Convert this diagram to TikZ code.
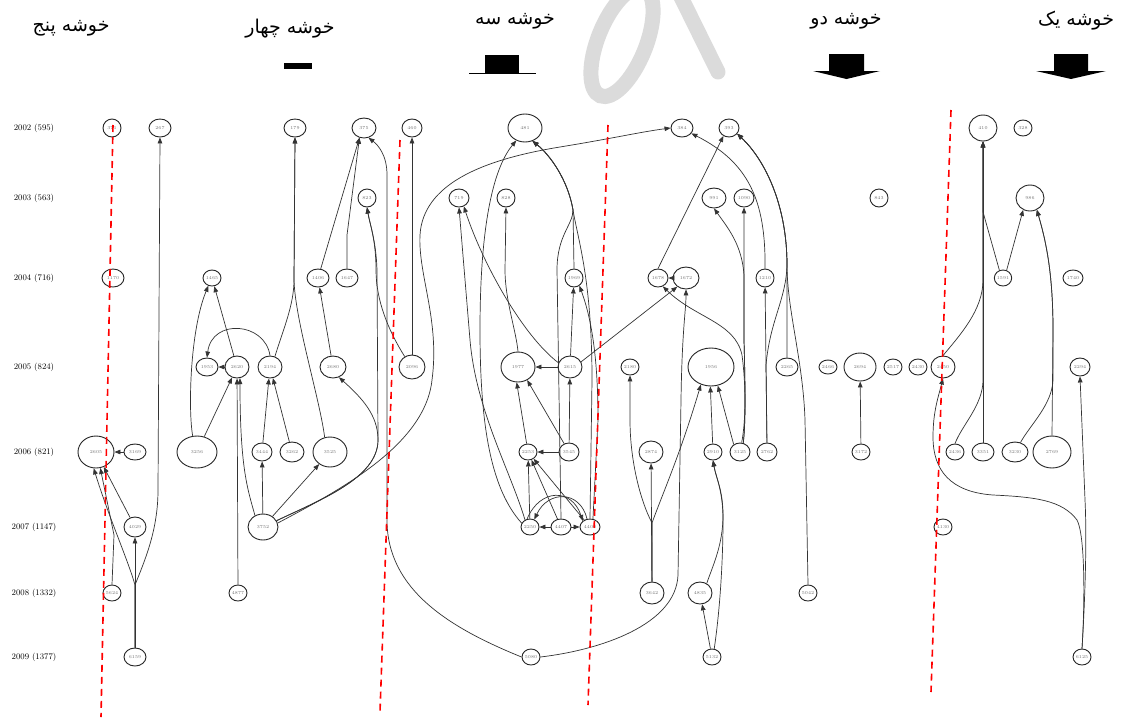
\documentclass[tikz,border=0pt]{standalone}
\usepackage{fontspec}
\newfontfamily\arabicfont[Script=Arabic]{DejaVu Sans}
\TeXXeTstate=1
\usetikzlibrary{shapes.geometric,arrows.meta}
\begin{document}
\begin{tikzpicture}[x=1pt,y=-1pt,
  nd/.style={ellipse, draw=black!85, fill=white, line width=0.9pt, inner sep=0pt,
    font=\fontsize{4.5}{5}\selectfont, text=black!55},
  rowl/.style={font=\fontsize{8.5}{9}\selectfont, inner sep=0pt},
  hd/.style={font=\arabicfont\fontsize{19}{22}\selectfont, inner sep=0pt},
  ed/.style={-{Triangle[length=6pt,width=4.6pt]}, line width=0.7pt, draw=black!80},
  reddash/.style={draw=red, line width=1.6pt, dash pattern=on 7pt off 5pt},
  wm/.style={draw=black!14, line width=15pt}]
\useasboundingbox (0,0) rectangle (1121,718);
\fill[white] (0,0) rectangle (1121,718);
% watermark
\begin{scope}
\clip (0,0) rectangle (1121,718);
\draw[wm, rotate around={-22:(622,42)}] (622,42) ellipse [x radius=24, y radius=58];
\draw[wm, line cap=round] (680,-5) -- (718,72);
\end{scope}
% headers
\node[hd] (h5) at (71,28) {\beginR خوشه پنج\endR};
\node[hd] (h4) at (290,29) {\beginR خوشه چهار\endR};
\node[hd] (h3) at (515,21) {\beginR خوشه سه\endR};
\node[hd] (h2) at (846,21) {\beginR خوشه دو\endR};
\node[hd] (h1) at (1076,21) {\beginR خوشه یک\endR};
\fill (284,63) rectangle (312,69);
\fill (485,55) rectangle (519,73);
\draw[line width=0.7pt] (469,73) -- (536,73);
\fill (829,54) rectangle (864,71) (813,71) -- (880,71) -- (846.5,79) -- cycle;
\fill (1054,54) rectangle (1088,71) (1036,71) -- (1106,71) -- (1071,79) -- cycle;
% row labels
\node[rowl] (r2002) at (34,128) {2002 (595)};
\node[rowl] (r2003) at (34,198) {2003 (563)};
\node[rowl] (r2004) at (34,278) {2004 (716)};
\node[rowl] (r2005) at (34,367) {2005 (824)};
\node[rowl] (r2006) at (34,452) {2006 (821)};
\node[rowl] (r2007) at (34,527) {2007 (1147)};
\node[rowl] (r2008) at (34,593) {2008 (1332)};
\node[rowl] (r2009) at (34,657) {2009 (1377)};
% nodes row 2002
\node[nd,minimum width=18,minimum height=18] (n371) at (112,128) {371};
\node[nd,minimum width=22,minimum height=18] (n267) at (160,128) {267};
\node[nd,minimum width=22,minimum height=18] (n179) at (295,128) {179};
\node[nd,minimum width=24,minimum height=20] (n375) at (364,128) {375};
\node[nd,minimum width=20,minimum height=18] (n460) at (412,128) {460};
\node[nd,minimum width=34,minimum height=28] (n481) at (525,128) {481};
\node[nd,minimum width=22,minimum height=18] (n384) at (682,128) {384};
\node[nd,minimum width=20,minimum height=18] (n393) at (729,128) {393};
\node[nd,minimum width=28,minimum height=26] (n410) at (983,128) {410};
\node[nd,minimum width=18,minimum height=16] (n328) at (1023,128) {328};
% row 2003
\node[nd,minimum width=18,minimum height=18] (n823) at (367,198) {823};
\node[nd,minimum width=20,minimum height=18] (n719) at (459,198) {719};
\node[nd,minimum width=18,minimum height=18] (n828) at (506,198) {828};
\node[nd,minimum width=24,minimum height=20] (n991) at (714,198) {991};
\node[nd,minimum width=20,minimum height=18] (n1090) at (744,198) {1090};
\node[nd,minimum width=18,minimum height=18] (n843) at (879,198) {843};
\node[nd,minimum width=28,minimum height=26] (n986) at (1030,198) {986};
% row 2004
\node[nd,minimum width=22,minimum height=18] (n1170) at (113,278) {1170};
\node[nd,minimum width=18,minimum height=16] (n1465) at (212,278) {1465};
\node[nd,minimum width=22,minimum height=18] (n1406) at (318,278) {1406};
\node[nd,minimum width=22,minimum height=18] (n1647) at (347,278) {1647};
\node[nd,minimum width=18,minimum height=18] (n1969) at (574,278) {1969};
\node[nd,minimum width=20,minimum height=18] (n1678) at (658,278) {1678};
\node[nd,minimum width=26,minimum height=22] (n1672) at (686,278) {1672};
\node[nd,minimum width=18,minimum height=18] (n1210) at (765,278) {1210};
\node[nd,minimum width=16,minimum height=16] (n1591) at (1003,278) {1591};
\node[nd,minimum width=20,minimum height=16] (n1740) at (1073,278) {1740};
% row 2005
\node[nd,minimum width=22,minimum height=18] (n1953) at (207,367) {1953};
\node[nd,minimum width=24,minimum height=22] (n2620) at (237,367) {2620};
\node[nd,minimum width=24,minimum height=22] (n2194) at (270,367) {2194};
\node[nd,minimum width=26,minimum height=22] (n2680) at (333,367) {2680};
\node[nd,minimum width=26,minimum height=24] (n2096) at (412,367) {2096};
\node[nd,minimum width=34,minimum height=30] (n1977) at (518,367) {1977};
\node[nd,minimum width=24,minimum height=22] (n2615) at (570,367) {2615};
\node[nd,minimum width=18,minimum height=16] (n2180) at (630,367) {2180};
\node[nd,minimum width=46,minimum height=38] (n1956) at (711,367) {1956};
\node[nd,minimum width=22,minimum height=18] (n2265) at (787,367) {2265};
\node[nd,minimum width=18,minimum height=14] (n2466) at (828,367) {2466};
\node[nd,minimum width=32,minimum height=28] (n2694) at (860,367) {2694};
\node[nd,minimum width=18,minimum height=16] (n2517) at (893,367) {2517};
\node[nd,minimum width=18,minimum height=16] (n2430) at (918,367) {2430};
\node[nd,minimum width=24,minimum height=22] (n2450) at (943,367) {2450};
\node[nd,minimum width=20,minimum height=18] (n2294) at (1080,367) {2294};
% row 2006
\node[nd,minimum width=36,minimum height=32] (n2605) at (96,452) {2605};
\node[nd,minimum width=22,minimum height=16] (n3169) at (135,452) {3169};
\node[nd,minimum width=40,minimum height=32] (n3256) at (197,452) {3256};
\node[nd,minimum width=20,minimum height=18] (n3444) at (262,452) {3444};
\node[nd,minimum width=24,minimum height=20] (n3262) at (292,452) {3262};
\node[nd,minimum width=34,minimum height=30] (n3525) at (330,452) {3525};
\node[nd,minimum width=18,minimum height=16] (n2253) at (528,452) {2253};
\node[nd,minimum width=20,minimum height=18] (n3545) at (569,452) {3545};
\node[nd,minimum width=24,minimum height=22] (n2874) at (651,452) {2874};
\node[nd,minimum width=18,minimum height=16] (n2910) at (713,452) {2910};
\node[nd,minimum width=20,minimum height=18] (n3125) at (740,452) {3125};
\node[nd,minimum width=20,minimum height=18] (n2762) at (767,452) {2762};
\node[nd,minimum width=18,minimum height=16] (n3172) at (861,452) {3172};
\node[nd,minimum width=18,minimum height=16] (n2436) at (955,452) {2436};
\node[nd,minimum width=22,minimum height=18] (n3351) at (983,452) {3351};
\node[nd,minimum width=26,minimum height=20] (n3230) at (1015,452) {3230};
\node[nd,minimum width=38,minimum height=32] (n2769) at (1052,452) {2769};
% row 2007
\node[nd,minimum width=22,minimum height=20] (n4029) at (135,527) {4029};
\node[nd,minimum width=30,minimum height=26] (n3752) at (263,527) {3752};
\node[nd,minimum width=18,minimum height=16] (n2250) at (530,527) {2250};
\node[nd,minimum width=20,minimum height=16] (n4407) at (561,527) {4407};
\node[nd,minimum width=20,minimum height=16] (n4400) at (590,527) {4400};
\node[nd,minimum width=18,minimum height=16] (n4130) at (943,527) {4130};
% row 2008
\node[nd,minimum width=18,minimum height=16] (n5624) at (112,593) {5624};
\node[nd,minimum width=18,minimum height=16] (n4877) at (238,593) {4877};
\node[nd,minimum width=24,minimum height=22] (n3642) at (652,593) {3642};
\node[nd,minimum width=24,minimum height=22] (n4835) at (700,593) {4835};
\node[nd,minimum width=18,minimum height=16] (n5042) at (808,593) {5042};
% row 2009
\node[nd,minimum width=22,minimum height=18] (n6159) at (135,657) {6159};
\node[nd,minimum width=18,minimum height=16] (n5080) at (531,657) {5080};
\node[nd,minimum width=18,minimum height=16] (n5132) at (712,657) {5132};
\node[nd,minimum width=18,minimum height=16] (n6125) at (1082,657) {6125};
% edges
\begin{scope}[every path/.append style={ed}]
% cluster five
\draw (n6159) -- (n4029);
\draw (n6159.north) -- (135,585) .. controls (128,560) and (108,515) .. (n2605.262);
\draw (n6159.north) -- (135,585) .. controls (145,560) and (158,530) .. (158,490) -- (n267.south);
\draw (n5624.north) -- (114,535) -- (n2605.285);
\draw (n4029) -- (n2605);
\draw (n3169) -- (n2605);
% cluster four
\draw (n3256.105) .. controls (188,410) and (190,330) .. (n1465.245);
\draw (n2620) -- (n1465);
\draw (n2194.north) .. controls (265,322) and (212,318) .. (n1953.north);
\draw (n2620) -- (n1953);
\draw (n3256) -- (n2620);
\draw (n4877) -- (n2620);
\draw (n3752.125) .. controls (248,490) and (240,470) .. (n2620.285);
\draw (n3444) -- (n2194);
\draw (n3262) -- (n2194);
\draw (n3752) -- (n3444);
\draw (n3752) -- (n3525);
\draw (n2194.65) .. controls (283,330) and (294,305) .. (294,280) -- (n179.south);
\draw (n3525.110) .. controls (320,400) and (295,320) .. (294,280) -- (n179.south);
\draw (n2680) -- (n1406);
\draw (n1406) -- (n375.245);
\draw (n1647.north) -- (347,235) -- (n375.245);
\draw (n5080.west) .. controls (450,628) and (387,590) .. (387,520) -- (387,175) .. controls (387,155) and (378,145) .. (n375.295);
\draw (n3752.25) .. controls (320,500) and (378,478) .. (378,440) .. controls (378,415) and (362,398) .. (n2680.300);
\draw (n3752.25) .. controls (320,500) and (378,478) .. (378,440) -- (377,270) .. controls (376,240) and (370,225) .. (n823.south);
\draw (n2096.125) .. controls (388,330) and (376,300) .. (376,270) .. controls (376,240) and (370,225) .. (n823.south);
\draw (n2096) -- (n460);
\draw (n3752.15) .. controls (340,490) and (425,445) .. (432,380) .. controls (440,320) and (418,275) .. (420,235) .. controls (423,185) and (480,160) .. (560,147) .. controls (615,138) and (640,132) .. (n384.west);
% cluster three
\draw (n2250.155) .. controls (492,490) and (480,430) .. (480,330) .. controls (480,230) and (492,170) .. (n481.235);
\draw (n2250.125) .. controls (510,470) and (476,410) .. (470,340) -- (n719.south);
\draw (n4407.north) -- (557,270) .. controls (557,235) and (573,225) .. (573,210) .. controls (568,180) and (550,155) .. (n481.300);
\draw (n4400.north) -- (592,380) .. controls (592,280) and (578,240) .. (573,210) .. controls (568,180) and (550,155) .. (n481.300);
\draw (n1969.north) -- (573,210) .. controls (568,180) and (550,155) .. (n481.300);
\draw (n2615) -- (n1969);
\draw (n4400.70) -- (598,420) .. controls (598,360) and (592,320) .. (n1969.305);
\draw (n2615.160) .. controls (522,335) and (482,262) .. (n719.300);
\draw (n1977.north) .. controls (516,330) and (505,300) .. (505,270) -- (n828.south);
\draw (n2615) -- (n1977);
\draw (n2615.25) -- (n1672.225);
\draw (n2253) -- (n1977.265);
\draw (n3545) -- (n1977.305);
\draw (n3545) -- (n2615);
\draw (n3545) -- (n2253);
\draw (n2250) -- (n2253);
\draw (n4407) -- (n2253);
\draw (n4400) -- (n2253);
\draw (n4407) -- (n2250);
\draw (n4407) -- (n4400);
\draw (n4400.110) .. controls (580,490) and (548,490) .. (n2250.60);
\draw (n2250.110) .. controls (540,488) and (572,488) .. (n4400.140);
\draw (n5080.east) .. controls (600,650) and (676,625) .. (678,575) -- (681,400) .. controls (682,330) and (686,310) .. (n1672.south);
% cluster two
\draw (n3642.north) -- (652,523) .. controls (640,500) and (630,460) .. (630,420) -- (n2180.south);
\draw (n3642.north) -- (652,523) .. controls (662,495) and (680,455) .. (n1956.240);
\draw (n3642) -- (n2874);
\draw (n2910) -- (n1956.268);
\draw (n3125.130) -- (n1956.290);
\draw (n4835.55) .. controls (713,565) and (723,545) .. (723,515) .. controls (723,490) and (716,478) .. (n2910.south);
\draw (n5132.75) .. controls (720,610) and (723,560) .. (723,520) .. controls (723,490) and (716,478) .. (n2910.south);
\draw (n5132) -- (n4835);
\draw (n3125.70) .. controls (746,420) and (745,380) .. (744,340) -- (744,275) .. controls (742,245) and (728,228) .. (n991.south);
\draw (n3125.70) .. controls (746,420) and (745,380) .. (744,340) -- (n1090.south);
\draw (n3125.80) .. controls (746,420) and (746,385) .. (742,355) .. controls (735,322) and (695,318) .. (n1678.300);
\draw (n1672) -- (n1678);
\draw (n1678.north) -- (n393.235);
\draw (n1210.north) .. controls (766,200) and (748,162) .. (n384.330);
\draw (n2762) -- (n1210);
\draw (n2265.north) -- (787,265) .. controls (787,205) and (765,160) .. (n393.325);
\draw (n5042.north) -- (805,420) .. controls (803,360) and (787,310) .. (787,265) .. controls (787,205) and (765,160) .. (n393.325);
\draw (n2762.north) -- (766,365) .. controls (770,320) and (786,300) .. (787,265) .. controls (787,205) and (765,160) .. (n393.325);
\draw (n3172) -- (n2694);
% cluster one
\draw (n6125.north) .. controls (1085,600) and (1087,540) .. (1085,500) -- (n2294.south);
\draw (n6125.north) .. controls (1085,600) and (1085,535) .. (1077,520) .. controls (1062,500) and (1035,497) .. (993,495) .. controls (950,492) and (933,470) .. (933,437) .. controls (933,412) and (938,398) .. (n2450.south);
\draw (n3351) -- (n410);
\draw (n2436.north) .. controls (962,425) and (983,405) .. (983,380) -- (n410.south);
\draw (n2450.north) .. controls (960,335) and (983,310) .. (983,280) -- (n410.south);
\draw (n1591.115) -- (983,212) -- (n410.south);
\draw (n1591.65) -- (n986.240);
\draw (n2769.north) -- (1053,330) .. controls (1053,270) and (1045,238) .. (n986.300);
\draw (n3230.60) .. controls (1030,425) and (1052,405) .. (1053,380) -- (1053,330) .. controls (1053,270) and (1045,238) .. (n986.300);
\end{scope}
% red dashed separators
\coordinate (d1a) at (113,125); \coordinate (d1b) at (101,717);
\coordinate (d2a) at (400,140); \coordinate (d2b) at (380,712);
\coordinate (d3a) at (608,125); \coordinate (d3b) at (588,705);
\coordinate (d4a) at (951,110); \coordinate (d4b) at (931,692);
\draw[reddash] (d1a) -- (d1b);
\draw[reddash] (d2a) -- (d2b);
\draw[reddash] (d3a) -- (d3b);
\draw[reddash] (d4a) -- (d4b);
\end{tikzpicture}
\end{document}
